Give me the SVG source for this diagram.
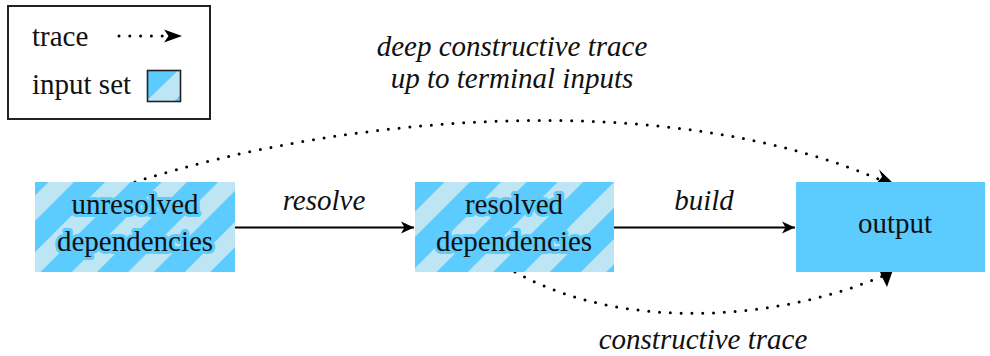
<svg xmlns="http://www.w3.org/2000/svg" width="990" height="356" viewBox="0 0 990 356">
  <defs>
    <pattern id="stripes" patternUnits="userSpaceOnUse" x="21" y="0" width="40" height="40" patternTransform="rotate(45)">
      <rect x="0" y="0" width="40" height="40" fill="#bde5f3"/>
      <rect x="0" y="0" width="22" height="40" fill="#5ccbfd"/>
    </pattern>
    <marker id="stealth" markerUnits="userSpaceOnUse" viewBox="-14 -7 16 14" refX="0" refY="0" markerWidth="16" markerHeight="14" orient="auto">
      <path d="M0,0 L-13,-6 L-9.5,0 L-13,6 Z" fill="#000"/>
    </marker>
    <style>
      .lbl { font-family: "Liberation Serif", "Times New Roman", serif; font-size: 29px; fill: #111; }
      .it { font-style: italic; }
      .halo { stroke: #5ccbfd; stroke-width: 6px; stroke-linejoin: round; paint-order: stroke; }
      .dots { fill: none; stroke: #000; stroke-width: 3; stroke-linecap: round; stroke-dasharray: 0 10.8; }
      .solid { fill: none; stroke: #000; stroke-width: 2; }
      .head { fill: #000; }
    </style>
  </defs>

  <rect width="990" height="356" fill="#fff"/>

  <!-- legend -->
  <g id="legend">
    <rect x="8" y="6" width="202" height="113" fill="#fff" stroke="#222" stroke-width="2"/>
    <text class="lbl" x="32" y="46">trace</text>
    <path class="dots" d="M119,36 L163,36"/>
    <path class="head" d="M182,36 L164,29.5 L168.5,36 L164,42.5 Z"/>
    <text class="lbl" x="32" y="94">input set</text>
    <rect x="147.5" y="70.5" width="33" height="31" fill="#bde5f3"/>
    <polygon points="147.5,70.5 178,70.5 147.5,100" fill="#5ccbfd"/>
    <polygon points="180.5,95 180.5,101.5 174,101.5" fill="#5ccbfd"/>
    <rect x="147.5" y="70.5" width="33" height="31" fill="none" stroke="#222" stroke-width="1.6"/>
  </g>

  <!-- connectors -->
  <g id="connectors">
    <path class="solid" d="M235,227.5 L414,227.5" marker-end="url(#stealth)"/>
    <text class="lbl it" x="324" y="210" text-anchor="middle">resolve</text>
    <path class="solid" d="M614,227.5 L795,227.5" marker-end="url(#stealth)"/>
    <text class="lbl it" x="704" y="210" text-anchor="middle">build</text>

    <path class="dots" d="M135,182 C348,114 672,87 885,182"/>
    <path class="head" d="M894,184 L879,169.5 L882,177 L874,186 Z"/>
    <text class="lbl it" x="512" y="56" text-anchor="middle">deep constructive trace</text>
    <text class="lbl it" x="512" y="88" text-anchor="middle">up to terminal inputs</text>

    <path class="dots" d="M515,272 C623,332.5 780,320.6 885,275"/>
    <path class="head" d="M894,267 L879,269 L881.5,276 L887,287 Z"/>
    <text class="lbl it" x="703" y="349" text-anchor="middle">constructive trace</text>
  </g>

  <!-- nodes -->
  <g id="unresolved">
    <rect x="35" y="182" width="200" height="90" fill="url(#stripes)"/>
    <text class="lbl halo" x="135" y="214" text-anchor="middle">unresolved</text>
    <text class="lbl halo" x="135" y="251" text-anchor="middle">dependencies</text>
  </g>
  <g id="resolved">
    <rect x="415" y="182" width="199" height="90" fill="url(#stripes)"/>
    <text class="lbl halo" x="514" y="214" text-anchor="middle">resolved</text>
    <text class="lbl halo" x="514" y="251" text-anchor="middle">dependencies</text>
  </g>
  <g id="output">
    <rect x="796" y="182" width="189" height="90" fill="#5ccbfd"/>
    <text class="lbl" x="895" y="233" text-anchor="middle">output</text>
  </g>
</svg>
